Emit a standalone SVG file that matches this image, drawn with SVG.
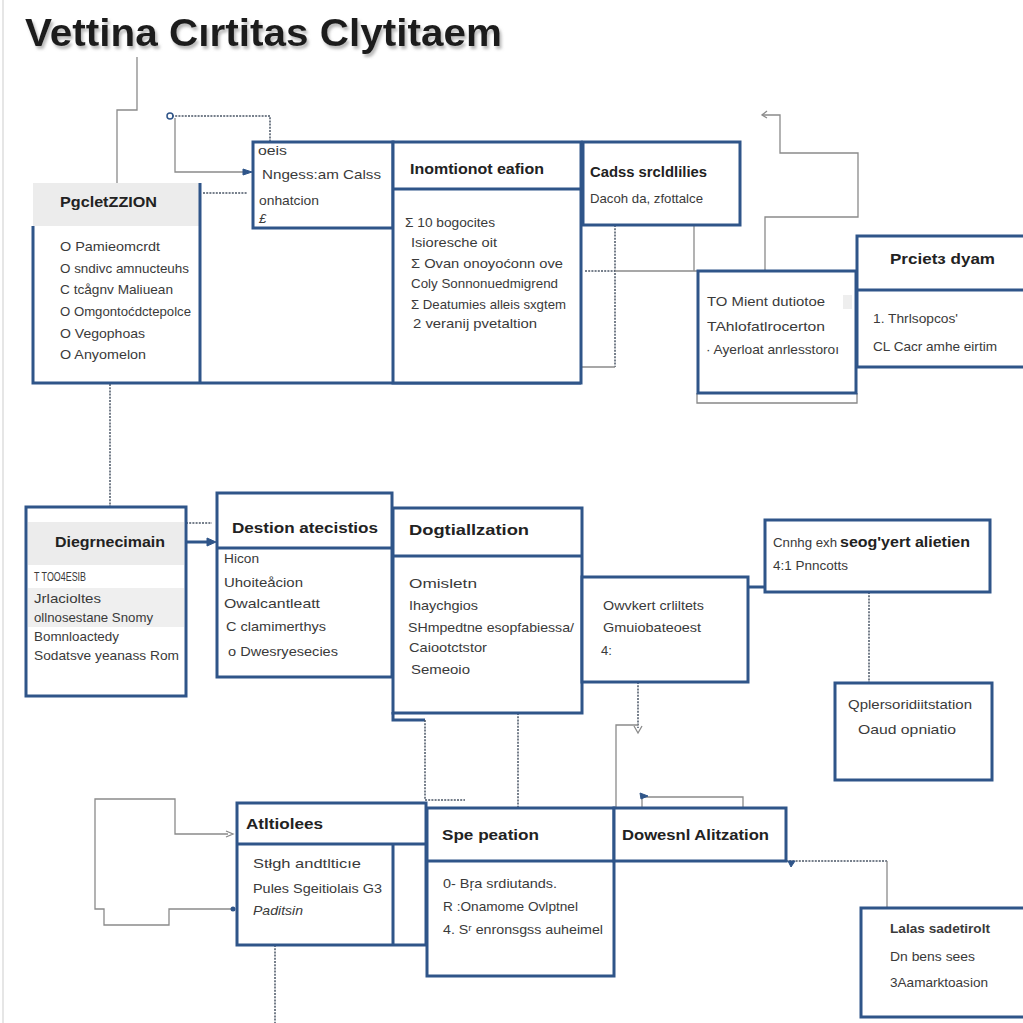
<svg xmlns="http://www.w3.org/2000/svg" width="1023" height="1023" viewBox="0 0 1023 1023">
<defs>
<style>
.bx{fill:#fff;stroke:#2f5589;stroke-width:3}
.bl{fill:none;stroke:#2f5589;stroke-width:3}
.t{font-family:"Liberation Sans",Arial,sans-serif;font-size:13px;fill:#3a3a3a}
.h{font-family:"Liberation Sans",Arial,sans-serif;font-weight:bold;font-size:15px;fill:#222}
.c{fill:none;stroke:#8a8a8a;stroke-width:1.3}
.d{fill:none;stroke:#4a5566;stroke-width:1.5;stroke-dasharray:2 1.2}
.ar{fill:#2f5589;stroke:#2f5589;stroke-width:1}
</style>
<filter id="sh" x="-5%" y="-30%" width="110%" height="170%">
<feDropShadow dx="2" dy="3" stdDeviation="1.6" flood-color="#888" flood-opacity="0.6"/>
</filter>
</defs>
<rect width="1023" height="1023" fill="#fff"/>
<line x1="3" y1="0" x2="3" y2="1023" stroke="#e6e6e6" stroke-width="2"/>
<g id="title">
<text x="25" y="46" font-family="'Liberation Sans',Arial,sans-serif" font-weight="bold" font-size="38" fill="#1e1e1e" filter="url(#sh)" textLength="477" lengthAdjust="spacingAndGlyphs">Vettina Cırtitas Clytitaem</text>
</g>
<g id="connectors">
<path class="c" d="M137,57 V110 H117 V183"/>
<path class="d" d="M172,116 H270 V142"/>
<circle cx="170" cy="116" r="3" fill="none" stroke="#2f5589" stroke-width="1.5"/>
<path class="c" d="M175,118 V172 H245"/>
<path class="ar" d="M243,169 L252,172 L243,175 Z"/>
<path class="d" d="M203,193 H247"/>
<path class="d" d="M615,225 V367"/>
<path class="c" d="M581,367 H615"/>
<path class="d" d="M585,271 H615"/>
<path class="c" d="M615,271 H698 M694,225 V271"/>
<path class="c" d="M763,115 H780 V153 H858 V217 H765 V270"/>
<path class="c" d="M767,111 L762,115 L767,118"/>
<path class="d" d="M110,384 V507"/>
<path class="d" d="M186,523 H212"/>
<path class="bl" d="M186,542 H210" stroke-width="2"/>
<path class="ar" d="M207,538 L216,542 L207,546 Z"/>
<path class="bl" d="M393,712 V720 H425"/>
<path class="d" d="M425,720 V800 H465"/>
<path class="d" d="M518,713 V808"/>
<path class="d" d="M638,682 V728"/>
<path class="c" d="M616,808 V725 H638"/>
<path class="c" d="M634,726 L638,733 L642,726"/>
<path class="bl" d="M748,587 H765"/>
<path class="d" d="M869,592 V683"/>
<path class="c" d="M642,808 V797 H743 V808"/>
<path class="ar" d="M640,793 L648,796 L641,799 Z"/>
<path class="c" d="M228,834 H175 V799 H95 V909 H104 V925 H169 V909 H233"/>
<path class="c" d="M226,831 L233,834 L226,837"/>
<circle cx="233" cy="909" r="2.5" fill="#2f5589"/>
<path class="d" d="M275,945 V1023"/>
<path class="d" d="M786,861 H887"/>
<path class="c" d="M887,861 V908"/>
<path class="ar" d="M788,861 L795,861 L791,867 Z"/>
</g>
<g id="node-pgcle">
<rect x="33" y="183" width="167" height="43" fill="#ececec"/>
<path class="bl" d="M33,226 V383 H581 M200,183 V383"/>
<text class="h" x="60" y="207" textLength="97" lengthAdjust="spacingAndGlyphs">PgcletZZION</text>
<text class="t" x="60" y="251" textLength="100" lengthAdjust="spacingAndGlyphs">O Pamieomcrdt</text>
<text class="t" x="60" y="273" textLength="129" lengthAdjust="spacingAndGlyphs">O sndivc amnucteuhs</text>
<text class="t" x="60" y="294" textLength="113" lengthAdjust="spacingAndGlyphs">C tcågnv Maliuean</text>
<text class="t" x="60" y="316" textLength="131" lengthAdjust="spacingAndGlyphs">O Omgontoćdctepolce</text>
<text class="t" x="60" y="338" textLength="85" lengthAdjust="spacingAndGlyphs">O Vegophoas</text>
<text class="t" x="60" y="359" textLength="86" lengthAdjust="spacingAndGlyphs">O Anyomelon</text>
</g>
<g id="node-nngess">
<rect class="bx" x="253" y="142" width="140" height="86"/>
<text class="t" x="258" y="155" font-size="12" fill="#222" textLength="29" lengthAdjust="spacingAndGlyphs">oeis</text>
<text class="t" x="262" y="179" font-size="16" fill="#222" textLength="119" lengthAdjust="spacingAndGlyphs">Nngess:am Calss</text>
<text class="t" x="259" y="205" textLength="60" lengthAdjust="spacingAndGlyphs">onhatcion</text>
<text class="t" x="259" y="223" font-style="italic">£</text>
</g>
<g id="node-inomtionot">
<rect class="bx" x="393" y="142" width="188" height="241"/>
<line class="bl" x1="393" y1="189" x2="581" y2="189"/>
<text class="h" x="410" y="174" textLength="134" lengthAdjust="spacingAndGlyphs">Inomtionot eafion</text>
<text class="t" x="405" y="227" textLength="90" lengthAdjust="spacingAndGlyphs">Σ 10 bogocites</text>
<text class="t" x="411" y="247" textLength="86" lengthAdjust="spacingAndGlyphs">Isioresche oit</text>
<text class="t" x="411" y="268" textLength="152" lengthAdjust="spacingAndGlyphs">Σ Ovan onoyoćonn ove</text>
<text class="t" x="411" y="288" textLength="147" lengthAdjust="spacingAndGlyphs">Coly Sonnonuedmigrend</text>
<text class="t" x="411" y="309" textLength="155" lengthAdjust="spacingAndGlyphs">Σ Deatumies alleis sxgtem</text>
<text class="t" x="413" y="328" textLength="124" lengthAdjust="spacingAndGlyphs">2 veranij pvetaltion</text>
</g>
<g id="node-cadss">
<rect class="bx" x="583" y="142" width="157" height="83"/>
<text class="h" x="590" y="177" textLength="117" lengthAdjust="spacingAndGlyphs">Cadss srcldlilies</text>
<text class="t" x="590" y="203" textLength="113" lengthAdjust="spacingAndGlyphs">Dacoh da, zfottalce</text>
</g>
<g id="node-tomient">
<path d="M697,393 V403 H857 V393" fill="none" stroke="#888" stroke-width="1.3"/>
<rect class="bx" x="698" y="271" width="158" height="122"/>
<rect x="843" y="295" width="9" height="14" fill="#eee"/>
<text class="t" x="707" y="306" textLength="118" lengthAdjust="spacingAndGlyphs">TO Mient dutiotoe</text>
<text class="t" x="707" y="331" textLength="118" lengthAdjust="spacingAndGlyphs">TAhlofatlrocerton</text>
<text class="t" x="706" y="354" textLength="133" lengthAdjust="spacingAndGlyphs">· Ayerloat anrlesstoroı</text>
</g>
<g id="node-prcietz">
<rect class="bx" x="857" y="236" width="175" height="131"/>
<line class="bl" x1="857" y1="290" x2="1023" y2="290"/>
<text class="h" x="890" y="264" textLength="105" lengthAdjust="spacingAndGlyphs">Prcietɜ dyam</text>
<text class="t" x="873" y="323" textLength="85" lengthAdjust="spacingAndGlyphs">1. Thrlsopcos'</text>
<text class="t" x="873" y="351" textLength="124" lengthAdjust="spacingAndGlyphs">CL Cacr amhe eirtim</text>
</g>
<g id="node-diegrn">
<rect class="bx" x="26" y="507" width="160" height="189"/>
<rect x="28" y="522" width="156" height="43" fill="#ececec"/>
<rect x="28" y="588" width="156" height="39" fill="#efefef"/>
<text class="h" x="55" y="547" font-size="16" textLength="110" lengthAdjust="spacingAndGlyphs">Diegrnecimain</text>
<text class="t" x="34" y="581" font-size="11" textLength="52" lengthAdjust="spacingAndGlyphs">T TOO4ESIB</text>
<text class="t" x="34" y="603" font-size="12" textLength="67" lengthAdjust="spacingAndGlyphs">Jrlacioltes</text>
<text class="t" x="34" y="622" font-size="12" textLength="119" lengthAdjust="spacingAndGlyphs">ollnosestane Snomy</text>
<text class="t" x="34" y="641" font-size="12" textLength="85" lengthAdjust="spacingAndGlyphs">Bomnloactedy</text>
<text class="t" x="34" y="660" font-size="12" textLength="145" lengthAdjust="spacingAndGlyphs">Sodatsve yeanass Rom</text>
</g>
<g id="node-destion">
<rect class="bx" x="217" y="493" width="175" height="184"/>
<line class="bl" x1="217" y1="548" x2="392" y2="548"/>
<text class="h" x="232" y="533" textLength="146" lengthAdjust="spacingAndGlyphs">Destion atecistios</text>
<text class="t" x="224" y="563" textLength="35" lengthAdjust="spacingAndGlyphs">Hicon</text>
<text class="t" x="224" y="587" textLength="79" lengthAdjust="spacingAndGlyphs">Uhoiteåcion</text>
<text class="t" x="224" y="608" textLength="96" lengthAdjust="spacingAndGlyphs">Owalcantleatt</text>
<text class="t" x="226" y="631" textLength="100" lengthAdjust="spacingAndGlyphs">C clamimerthys</text>
<text class="t" x="228" y="656" textLength="110" lengthAdjust="spacingAndGlyphs">o Dwesryesecies</text>
</g>
<g id="node-dogtiall">
<rect class="bx" x="393" y="508" width="189" height="205"/>
<line class="bl" x1="393" y1="556" x2="582" y2="556"/>
<text class="h" x="409" y="535" textLength="120" lengthAdjust="spacingAndGlyphs">Dogtiallzation</text>
<text class="t" x="409" y="588" textLength="68" lengthAdjust="spacingAndGlyphs">Omisletn</text>
<text class="t" x="409" y="610" textLength="69" lengthAdjust="spacingAndGlyphs">Ihaychgios</text>
<text class="t" x="408" y="632" textLength="166" lengthAdjust="spacingAndGlyphs">SHmpedtne esopfabiessa/</text>
<text class="t" x="409" y="652" textLength="78" lengthAdjust="spacingAndGlyphs">Caiootctstor</text>
<text class="t" x="411" y="674" textLength="59" lengthAdjust="spacingAndGlyphs">Semeoio</text>
</g>
<g id="node-owvkert">
<rect class="bx" x="582" y="577" width="166" height="105"/>
<text class="t" x="603" y="610" textLength="101" lengthAdjust="spacingAndGlyphs">Owvkert crliltets</text>
<text class="t" x="603" y="632" textLength="98" lengthAdjust="spacingAndGlyphs">Gmuiobateoest</text>
<text class="t" x="601" y="655">4:</text>
</g>
<g id="node-cnnhg">
<rect class="bx" x="765" y="520" width="225" height="72"/>
<text class="t" x="773" y="547" textLength="64" lengthAdjust="spacingAndGlyphs">Cnnhg exh</text>
<text class="h" x="840" y="547" textLength="130" lengthAdjust="spacingAndGlyphs">seog'yert alietien</text>
<text class="t" x="773" y="570" textLength="75" lengthAdjust="spacingAndGlyphs">4:1 Pnncotts</text>
</g>
<g id="node-qplers">
<rect class="bx" x="835" y="683" width="157" height="97"/>
<text class="t" x="848" y="709" textLength="124" lengthAdjust="spacingAndGlyphs">Qplersoridiitstation</text>
<text class="t" x="858" y="734" textLength="98" lengthAdjust="spacingAndGlyphs">Oaud opniatio</text>
</g>
<g id="node-atltiolees">
<rect class="bx" x="237" y="803" width="189" height="142"/>
<path class="bl" d="M237,844 H426 M393,844 V945"/>
<text class="h" x="246" y="829" textLength="77" lengthAdjust="spacingAndGlyphs">Atltiolees</text>
<text class="t" x="253" y="868" textLength="108" lengthAdjust="spacingAndGlyphs">Stłgh andtlticıe</text>
<text class="t" x="253" y="893" textLength="129" lengthAdjust="spacingAndGlyphs">Pules Sgeitiolais G3</text>
<text class="t" x="253" y="915" font-style="italic" textLength="50" lengthAdjust="spacingAndGlyphs">Paditsin</text>
</g>
<g id="node-spepeation">
<rect class="bx" x="427" y="808" width="187" height="168"/>
<line class="bl" x1="427" y1="861" x2="614" y2="861"/>
<text class="h" x="442" y="840" textLength="97" lengthAdjust="spacingAndGlyphs">Spe peation</text>
<text class="t" x="443" y="888" textLength="114" lengthAdjust="spacingAndGlyphs">0- Bŗa srdiutands.</text>
<text class="t" x="443" y="911" textLength="135" lengthAdjust="spacingAndGlyphs">R :Onamome Ovlptnel</text>
<text class="t" x="443" y="934" textLength="160" lengthAdjust="spacingAndGlyphs">4. Sʳ enronsgss auheimel</text>
</g>
<g id="node-dowesnl">
<rect class="bx" x="614" y="808" width="172" height="53"/>
<text class="h" x="622" y="840" textLength="147" lengthAdjust="spacingAndGlyphs">Dowesnl Alitzation</text>
</g>
<g id="node-lalas">
<rect class="bx" x="861" y="908" width="175" height="109"/>
<text class="t" x="890" y="933" font-weight="bold" fill="#333" textLength="100" lengthAdjust="spacingAndGlyphs">Lalas sadetirolt</text>
<text class="t" x="890" y="961" textLength="85" lengthAdjust="spacingAndGlyphs">Dn bens sees</text>
<text class="t" x="890" y="987" textLength="98" lengthAdjust="spacingAndGlyphs">3Aamarktoasion</text>
</g>
</svg>
